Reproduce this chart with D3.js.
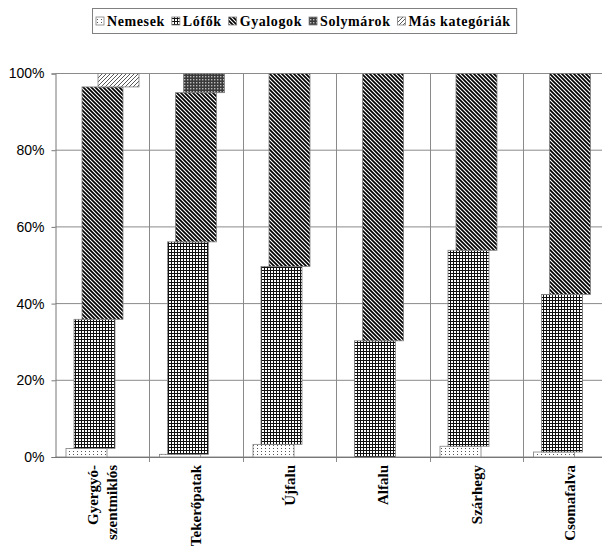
<!DOCTYPE html>
<html>
<head>
<meta charset="utf-8">
<script src="https://cdn.jsdelivr.net/npm/d3@7"></script>
<style>
    body { margin: 0; background: #fff; }
    svg { display: block; }
    .serif { font-family: "Liberation Serif", "DejaVu Serif", serif; font-weight: bold; }
    .sans { font-family: "Liberation Sans", Arial, sans-serif; }
</style>
</head>
<body>
<div id="chart"></div>
<script>
'use strict'

// Data (percent of each village)
const categories = ["Gyergyó-szentmiklós", "Tekerőpatak", "Újfalu", "Alfalu", "Szárhegy", "Csomafalva"];
const seriesNames = ["Nemesek", "Lófők", "Gyalogok", "Solymárok", "Más kategóriák"];
const nemesek = [2.2, 0.7, 3.3, 0, 2.8, 1.3];
const lofok = [33.7, 55.4, 46.4, 30.3, 51.1, 41.1];
const gyalogok = [60.6, 38.9, 50.3, 69.7, 46.1, 57.6];
const solymarok = [0, 5.0, 0, 0, 0, 0];
const masKategoriak = [3.5, 0, 0, 0, 0, 0];
const yTicks = [0, 20, 40, 60, 80, 100];

document.addEventListener('DOMContentLoaded', function () {
    const width = 602;
    const height = 547;
    const left = 55.5;
    const top = 73.5;
    const bottom = 457;
    const step = 93.5;
    const barW = 41;
    const shift = 8;

    const seriesValues = [nemesek, lofok, gyalogok, solymarok, masKategoriak];
    const rows = categories.map((c, i) => {
        const row = { category: c };
        seriesNames.forEach((s, j) => { row[s] = seriesValues[j][i]; });
        return row;
    });
    const stacked = d3.stack().keys(seriesNames)(rows);

    const svg = d3.select("#chart")
        .append("svg")
        .attr("width", width)
        .attr("height", height);

    ////////////////////////////////////////////
    // Fill patterns
    const defs = svg.append("defs");

    const p0 = defs.append("pattern").attr("id", "pat0")
        .attr("patternUnits", "userSpaceOnUse").attr("width", 4).attr("height", 3);
    p0.append("rect").attr("width", 4).attr("height", 3).attr("fill", "#fff");
    p0.append("rect").attr("x", 1).attr("y", 1).attr("width", 1).attr("height", 1).attr("fill", "#555");

    const p1 = defs.append("pattern").attr("id", "pat1")
        .attr("patternUnits", "userSpaceOnUse").attr("width", 3).attr("height", 3);
    p1.append("rect").attr("width", 3).attr("height", 3).attr("fill", "#fff");
    p1.append("path").attr("d", "M0,0.5H3M0.5,0V3")
        .attr("stroke", "#111").attr("stroke-width", 1);

    const p2 = defs.append("pattern").attr("id", "pat2")
        .attr("patternUnits", "userSpaceOnUse").attr("width", 4).attr("height", 4);
    p2.append("rect").attr("width", 4).attr("height", 4).attr("fill", "#fff");
    p2.append("path").attr("d", "M-1,-1L5,5M3,-1L5,1M-1,3L1,5")
        .attr("stroke", "#000").attr("stroke-width", 1.7);

    const p3 = defs.append("pattern").attr("id", "pat3")
        .attr("patternUnits", "userSpaceOnUse").attr("width", 3).attr("height", 3);
    p3.append("rect").attr("width", 3).attr("height", 3).attr("fill", "#3a3a3a");
    p3.append("rect").attr("x", 1).attr("y", 1).attr("width", 1.4).attr("height", 1.4).attr("fill", "#bbb");

    const p4 = defs.append("pattern").attr("id", "pat4")
        .attr("patternUnits", "userSpaceOnUse").attr("width", 4).attr("height", 4);
    p4.append("rect").attr("width", 4).attr("height", 4).attr("fill", "#fff");
    p4.append("path").attr("d", "M-1,5L5,-1M-1,1L1,-1M3,5L5,3")
        .attr("stroke", "#444").attr("stroke-width", 0.9);

    const fillFor = i => `url(#pat${i})`;

    ////////////////////////////////////////////
    // Scales
    const x = d3.scaleBand()
        .domain(categories)
        .range([left, left + step * categories.length])
        .padding(0);

    const y = d3.scaleLinear()
        .domain([0, 100])
        .range([bottom, top]);

    // Gridlines
    svg.append("g")
        .selectAll("line")
        .data(yTicks)
        .enter().append("line")
        .attr("x1", left).attr("x2", width)
        .attr("y1", d => y(d)).attr("y2", d => y(d))
        .attr("stroke", "#8a8a8a")
        .attr("stroke-width", 1);

    svg.append("g")
        .selectAll("line")
        .data(categories.slice(1))
        .enter().append("line")
        .attr("x1", d => Math.round(x(d)) + 0.5).attr("x2", d => Math.round(x(d)) + 0.5)
        .attr("y1", top).attr("y2", bottom + 5)
        .attr("stroke", "#8a8a8a")
        .attr("stroke-width", 1);

    // Y axis
    const yAxis = svg.append("g")
        .attr("transform", `translate(${left},0)`)
        .call(d3.axisLeft(y).tickValues(yTicks).tickSize(4).tickFormat(d => d + "%"));
    yAxis.attr("font-family", null).attr("font-size", null);
    yAxis.select(".domain").attr("stroke", "#777");
    yAxis.selectAll(".tick line").attr("stroke", "#777");
    yAxis.selectAll("text")
        .attr("class", "sans")
        .attr("x", -11)
        .style("font-size", "14px")
        .attr("fill", "#000");

    // X axis
    const xAxis = svg.append("g")
        .attr("transform", `translate(0,${bottom})`)
        .call(d3.axisBottom(x).tickSize(0).tickFormat(""));
    xAxis.select(".domain").attr("stroke", "#777");

    // Bars, each series shifted to the right
    svg.append("g")
        .selectAll("g")
        .data(stacked)
        .enter().append("g")
        .attr("fill", (d, i) => fillFor(i))
        .each(function (series, i) {
            d3.select(this).selectAll("rect")
                .data(series.filter(d => d[1] - d[0] > 0))
                .enter().append("rect")
                .attr("x", d => x(d.data.category) + 10.5 + i * shift)
                .attr("y", d => y(d[1]))
                .attr("width", barW)
                .attr("height", d => y(d[0]) - y(d[1]))
                .attr("stroke", "#808080")
                .attr("stroke-width", 0.8);
        });

    // Category labels (rotated)
    const labels = svg.append("g")
        .selectAll("text")
        .data(categories)
        .enter().append("text")
        .attr("class", "serif")
        .attr("transform", d => `translate(${x(d) + x.bandwidth() / 2},465) rotate(-90)`)
        .attr("text-anchor", "end")
        .style("font-size", "15px");

    labels.each(function (d) {
        const parts = d.includes("-") ? [d.split("-")[0] + "-", d.split("-")[1]] : [d];
        const t = d3.select(this);
        parts.forEach((p, k) => {
            t.append("tspan")
                .attr("x", 0)
                .attr("y", (k - (parts.length - 1) / 2) * 19)
                .attr("dy", "0.35em")
                .text(p);
        });
    });

    ////////////////////////////////////////////
    // Legend
    const legend = svg.append("g");
    const legendBox = legend.append("rect")
        .attr("fill", "#fff")
        .attr("stroke", "#808080")
        .attr("stroke-width", 1);

    let lx = 96;
    seriesNames.forEach((name, i) => {
        legend.append("rect")
            .attr("x", lx).attr("y", 17)
            .attr("width", 8).attr("height", 8)
            .attr("fill", fillFor(i))
            .attr("stroke", "#808080")
            .attr("stroke-width", 0.8);
        const txt = legend.append("text")
            .attr("class", "serif")
            .attr("x", lx + 11).attr("y", 26)
            .style("font-size", "14px")
            .style("letter-spacing", "0.6px")
            .text(name);
        lx += 11 + txt.node().getComputedTextLength() + 7;
    });

    legendBox
        .attr("x", 92.5).attr("y", 8.5)
        .attr("width", lx - 92.5 - 1).attr("height", 25);
});
</script>
</body>
</html>
